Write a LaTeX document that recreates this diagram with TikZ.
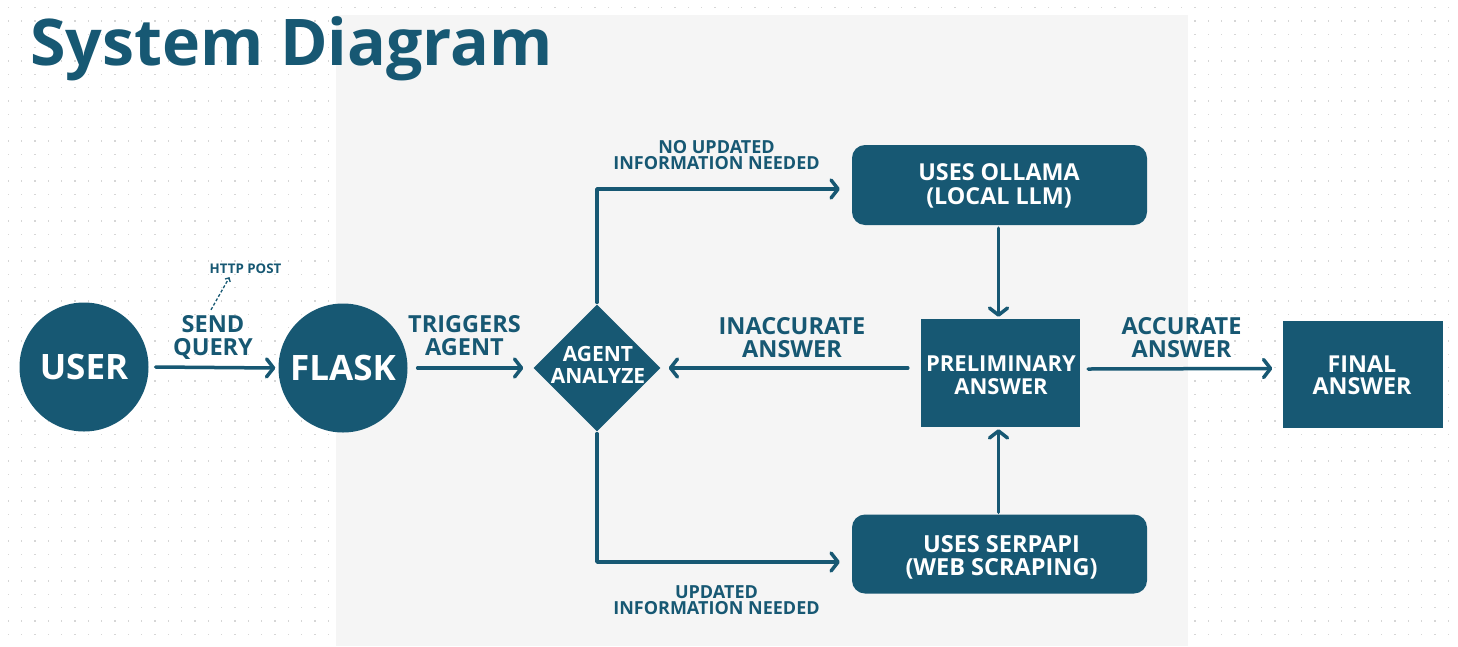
\documentclass[tikz,border=0pt]{standalone}
\usepackage{fontspec}
\setmainfont{Open Sans}
\usetikzlibrary{arrows.meta,shapes.geometric}
\definecolor{dteal}{HTML}{175873}
\definecolor{bggray}{HTML}{F5F5F5}
\definecolor{dotc}{HTML}{D6D6D6}
\tikzset{
  lbl/.style={text=dteal, align=center, inner sep=0pt, font=\fontsize{23.5}{23}\selectfont\bfseries},
  sml/.style={text=dteal, align=center, inner sep=0pt, font=\fontsize{18}{16.5}\selectfont\bfseries},
  wtxt/.style={text=white, align=center, inner sep=0pt},
  rbox/.style={fill=dteal, rounded corners=13pt, inner sep=0pt, minimum width=295pt, minimum height=80pt},
  sbox/.style={fill=dteal, inner sep=0pt},
  circ/.style={circle, fill=dteal, minimum size=129pt, inner sep=0pt, text=white, font=\fontsize{35}{35}\selectfont\bfseries},
  arr/.style={draw=dteal, line width=3.5pt, line cap=round, line join=round, -{Straight Barb[length=7pt,width=18pt,round]}},
}
\begin{document}
\begin{tikzpicture}[x=1pt,y=-1pt]
\useasboundingbox (0,0) rectangle (1458,646);
\fill[white] (0,0) rectangle (1458,646);
\foreach \i in {0,...,109} {
  \foreach \j in {0,...,48} {
    \fill[dotc] ({8.3+13.333*\i-0.75},{7.7+13.333*\j-0.75}) rectangle ++(1.5,1.5);
  }
}
\fill[bggray] (336,15) rectangle (1188,646);

\node[anchor=base west, inner sep=0pt, text=dteal, font=\fontsize{64.4}{65}\selectfont\bfseries] (title) at (30,65) {System Diagram};

% nodes
\node[circ] (user) at (84,367) {USER};
\node[circ] (flask) at (343,368) {FLASK};
\node[diamond, aspect=1, fill=dteal, minimum width=127pt, minimum height=127pt, inner sep=0pt] (agent) at (597,368) {};
\node[wtxt, font=\fontsize{21}{22}\selectfont\bfseries] (agenttxt) at (598,364.5) {AGENT\\ANALYZE};
\node[rbox] (ollama) at (999.5,185) {};
\node[wtxt, font=\fontsize{23.3}{24}\selectfont\bfseries] (ollamatxt) at (999,186) {USES OLLAMA\\(LOCAL LLM)};
\node[rbox, minimum height=79pt] (serp) at (999.5,554) {};
\node[wtxt, font=\fontsize{23.5}{23}\selectfont\bfseries] (serptxt) at (1001.5,557.5) {USES SERPAPI\\(WEB SCRAPING)};
\node[sbox, minimum width=159pt, minimum height=108pt] (prelim) at (1000.5,373) {};
\node[wtxt, font=\fontsize{22}{23}\selectfont\bfseries] (prelimtxt) at (1001,375.5) {PRELIMINARY\\ANSWER};
\node[sbox, minimum width=160pt, minimum height=107pt] (final) at (1362.5,374.5) {};
\node[wtxt, font=\fontsize{23.3}{22}\selectfont\bfseries] (finaltxt) at (1362,375) {FINAL\\ANSWER};

% labels
\node[lbl] (lsend) at (213,337) {SEND\\QUERY};
\node[text=dteal, inner sep=0pt, font=\fontsize{13.3}{13}\selectfont\bfseries] (lhttp) at (245.5,269) {HTTP POST};
\node[lbl] (ltrig) at (464.5,335.5) {TRIGGERS\\AGENT};
\node[sml] (lno) at (716.5,155) {NO UPDATED\\INFORMATION NEEDED};
\node[lbl] (linacc) at (792,338) {INACCURATE\\ANSWER};
\node[lbl] (lacc) at (1181.5,337.5) {ACCURATE\\ANSWER};
\node[sml] (lupd) at (716.5,600) {UPDATED\\INFORMATION NEEDED};

% connectors
\draw[arr] ([xshift=7pt]user.east) -- ([xshift=-3pt]flask.west);
\draw[dteal, line width=1.3pt, dashed, dash pattern=on 3pt off 2pt, -{Straight Barb[length=3pt,width=6pt]}] ([xshift=-2pt,yshift=5pt]lsend.north) -- ([xshift=-16pt,yshift=-3pt]lhttp.south);
\draw[arr] ([xshift=10pt]flask.east) -- ([xshift=-10pt]agent.west);
\draw[arr] ([yshift=2pt]agent.north) |- ([xshift=-12pt,yshift=-4pt]ollama.west);
\draw[arr] ([xshift=-1pt,yshift=-3pt]ollama.south) -- ([xshift=-2pt,yshift=2pt]prelim.north);
\draw[arr] ([xshift=-13pt,yshift=5pt]prelim.west) -- ([xshift=8pt]agent.east);
\draw[arr] ([xshift=8pt,yshift=4pt]prelim.east) -- ([xshift=-10pt,yshift=6pt]final.west);
\draw[arr] ([yshift=-2pt]agent.south) |- ([xshift=-12pt,yshift=-8pt]serp.west);
\draw[arr] ([xshift=-1pt,yshift=2pt]serp.north) -- ([xshift=-2pt,yshift=-2pt]prelim.south);
\end{tikzpicture}
\end{document}
